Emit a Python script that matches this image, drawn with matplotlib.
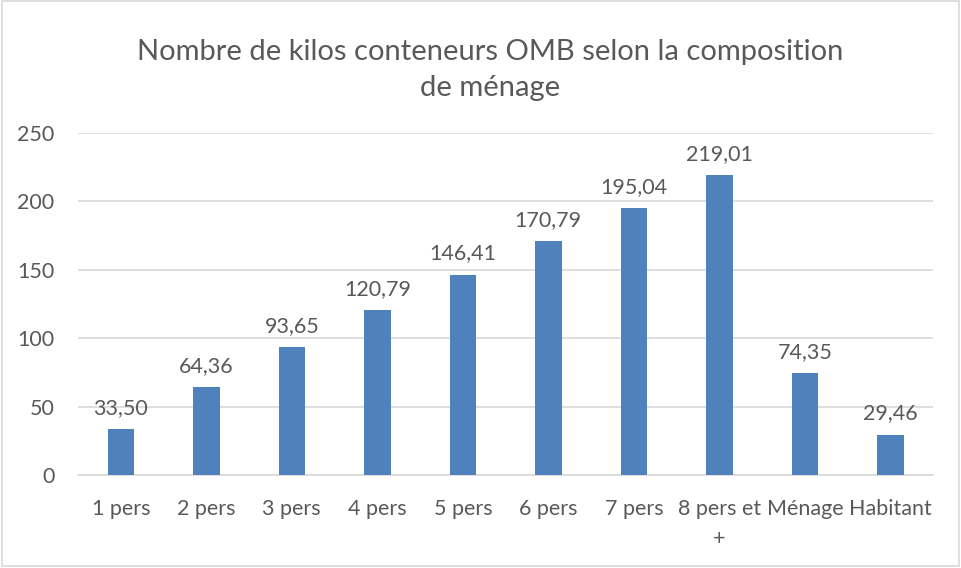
import matplotlib.pyplot as plt
from matplotlib.patches import Rectangle

categories = ["1 pers", "2 pers", "3 pers", "4 pers", "5 pers", "6 pers",
              "7 pers", "8 pers et\n+", "Ménage", "Habitant"]
values = [33.50, 64.36, 93.65, 120.79, 146.41, 170.79, 195.04, 219.01, 74.35, 29.46]
yticks = [0, 50, 100, 150, 200, 250]

plt.rcParams['font.family'] = ['Lato', 'DejaVu Sans']
text_color = "#595959"

fig = plt.figure(figsize=(9.61, 5.68), dpi=100)
ax = fig.add_axes([0.0812, 0.1637, 0.971 - 0.0812, 0.766 - 0.1637])

x = range(len(categories))
ax.bar(x, values, width=0.31, color="#4F81BD", zorder=3)

for xi, v in zip(x, values):
    ax.annotate(f"{v:.2f}".replace(".", ","), (xi, v), xytext=(0, 8),
                textcoords="offset points", ha="center", va="bottom",
                fontsize=15.5, color=text_color)

ax.set_xlim(-0.5, len(categories) - 0.5)
ax.set_ylim(0, 250)
ax.set_yticks(yticks)
ax.set_xticks(list(x))
ax.set_xticklabels(categories, linespacing=1.65)
ax.tick_params(axis="both", length=0, labelsize=15.5, labelcolor=text_color)
ax.tick_params(axis="y", pad=17)
ax.tick_params(axis="x", pad=17)
ax.grid(axis="y", color="#D9D9D9", linewidth=1.2, zorder=0)
for side in ["top", "right", "left"]:
    ax.spines[side].set_visible(False)
ax.spines["bottom"].set_color("#D9D9D9")
ax.spines["bottom"].set_linewidth(1.2)

fig.text(0.51, 0.877, "Nombre de kilos conteneurs OMB selon la composition\nde ménage",
         ha="center", va="center", fontsize=21, color=text_color, linespacing=1.5)

fig.patches.append(Rectangle((0.002, 0.004), 0.996, 0.994, transform=fig.transFigure,
                             fill=False, edgecolor="#D9D9D9", linewidth=1.2))

fig.savefig("out.png", dpi=100)
